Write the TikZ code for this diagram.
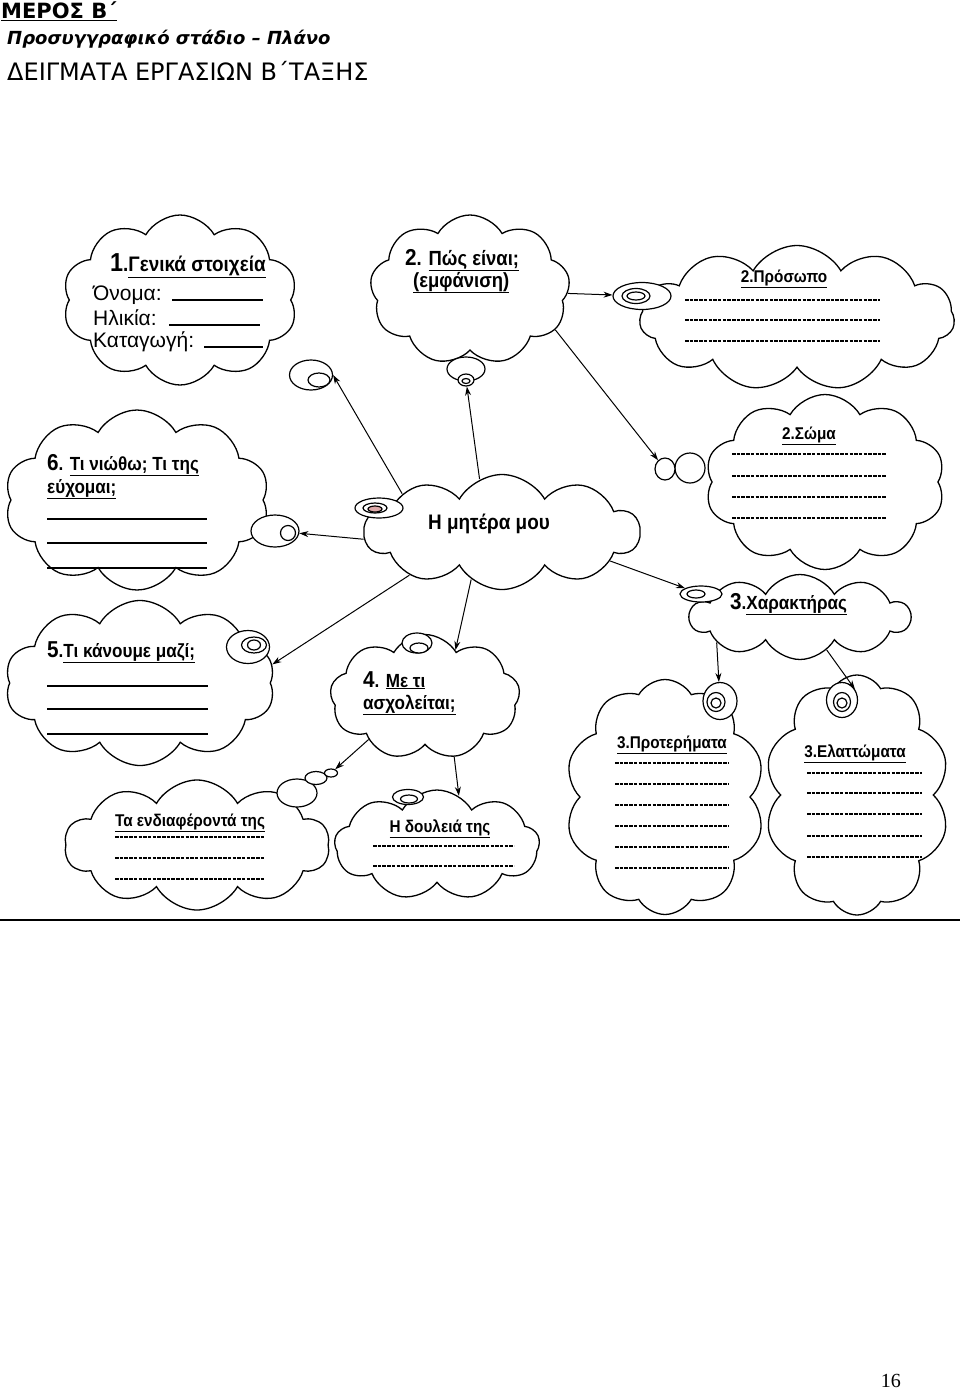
\documentclass[tikz,border=0pt]{standalone}
\usepackage{fontspec}
\usepackage{tikz}
\usetikzlibrary{shapes.symbols, shapes.geometric, positioning, arrows.meta}
\setmainfont{Liberation Sans}
\newfontfamily\headfont{DejaVu Sans}
\newfontfamily\cloudfont[FakeStretch=0.9]{Liberation Sans}
\newfontfamily\pagefont{Liberation Serif}
\definecolor{tailpink}{RGB}{222,170,170}

\begin{document}
\begin{tikzpicture}[x=1pt, y=-1pt,
        % Define styles for clouds, bubbles, texts and arrows
        cloudnode/.style={draw, cloud, cloud puffs=#1, cloud puff arc=120, cloud ignores aspect, line width=1.3pt, fill=white, inner sep=0pt},
        cloudnode/.default=10,
        bubble/.style={draw, ellipse, line width=1.2pt, fill=white, inner sep=0pt},
        caption/.style={font=\cloudfont\bfseries\fontsize{17}{20}\selectfont, anchor=base west, inner sep=0pt},
        bigcaption/.style={caption, font=\cloudfont\bfseries\fontsize{19}{22}\selectfont},
        entry/.style={font=\fontsize{21}{24}\selectfont, anchor=base west, inner sep=0pt},
        dots/.style={line width=1.6pt, dash pattern=on 3.5pt off 1.2pt},
        blank/.style={line width=1.8pt},
        link/.style={-{Stealth[length=9pt, width=6pt]}, line width=1pt}
    ]
    \useasboundingbox (0,0) rectangle (960,1390);

    % --- HEADER ---
    \node[anchor=base west, inner sep=0pt, font=\headfont\bfseries\fontsize{21}{24}\selectfont] (part) at (1,18) {\underline{ΜΕΡΟΣ Β΄}};
    \node[anchor=base west, inner sep=0pt, font=\headfont\bfseries\itshape\fontsize{18}{20}\selectfont] (stage) at (7,44) {Προσυγγραφικό στάδιο – Πλάνο};
    \node[anchor=base west, inner sep=0pt, font=\headfont\fontsize{24}{26}\selectfont] (samples) at (7,80) {ΔΕΙΓΜΑΤΑ ΕΡΓΑΣΙΩΝ Β΄ΤΑΞΗΣ};

    % --- CLOUDS ---
    \node[cloudnode=10, minimum width=235pt, minimum height=170pt] (gen) at (180,300) {};
    \node[cloudnode=9, minimum width=200pt, minimum height=150pt] (looks) at (470,290) {};
    \node[cloudnode=11, minimum width=315pt, minimum height=145pt] (face) at (797,318) {};
    \node[cloudnode=10, minimum width=240pt, minimum height=175pt] (body) at (825,482) {};
    \node[cloudnode=10, minimum width=265pt, minimum height=180pt] (feel) at (137,500) {};
    \node[cloudnode=10, minimum width=275pt, minimum height=115pt] (mother) at (502,532) {};
    \node[cloudnode=10, minimum width=220pt, minimum height=85pt] (character) at (800,617) {};
    \node[cloudnode=10, minimum width=270pt, minimum height=165pt] (together) at (140,683) {};
    \node[cloudnode=9, minimum width=190pt, minimum height=125pt] (hobby) at (425,697) {};
    \node[cloudnode=10, minimum width=265pt, minimum height=130pt] (interests) at (197,845) {};
    \node[cloudnode=9, minimum width=205pt, minimum height=110pt] (job) at (437,845) {};
    \node[cloudnode=10, minimum width=200pt, minimum height=235pt] (virtues) at (665,797) {};
    \node[cloudnode=10, minimum width=185pt, minimum height=240pt] (faults) at (857,795) {};

    % --- BUBBLES (tails of the clouds) ---
    \node[bubble, minimum width=43pt, minimum height=30pt] (gentail) at (311,375) {};
    \node[bubble, minimum width=22pt, minimum height=14pt] (gentailin) at (319,380) {};

    \node[bubble, minimum width=38pt, minimum height=24pt] (lookstail) at (466,369) {};
    \node[bubble, minimum width=16pt, minimum height=12pt] (lookstailin) at (466,380) {};
    \node[bubble, minimum width=8pt, minimum height=5pt] (lookstaildot) at (466,381) {};

    \node[bubble, minimum width=58pt, minimum height=27pt] (facetail) at (642,296) {};
    \node[bubble, minimum width=28pt, minimum height=15pt] (facetailin) at (636,296) {};
    \node[bubble, minimum width=18pt, minimum height=8pt] (facetaildot) at (636,296) {};

    \node[bubble, minimum width=30pt, minimum height=30pt] (bodytail) at (690,468) {};
    \node[bubble, minimum width=20pt, minimum height=22pt] (bodytailin) at (665,469) {};

    \node[bubble, minimum width=48pt, minimum height=32pt] (feeltail) at (275,531) {};
    \node[bubble, minimum width=15pt, minimum height=15pt] (feeltailin) at (288,533) {};

    \node[bubble, minimum width=48pt, minimum height=20pt] (mothertail) at (379,508) {};
    \node[bubble, minimum width=24pt, minimum height=10pt] (mothertailin) at (375,508) {};
    \node[bubble, fill=tailpink, minimum width=14pt, minimum height=6pt] (mothertaildot) at (375,509) {};

    \node[bubble, minimum width=43pt, minimum height=33pt] (togethertail) at (248,647) {};
    \node[bubble, minimum width=25pt, minimum height=16pt] (togethertailin) at (254,645) {};
    \node[bubble, minimum width=13pt, minimum height=10pt] (togethertaildot) at (254,645) {};

    \node[bubble, minimum width=30pt, minimum height=20pt] (hobbytail) at (417,643) {};
    \node[bubble, minimum width=18pt, minimum height=10pt] (hobbytailin) at (419,648) {};

    \node[bubble, minimum width=42pt, minimum height=16pt] (chartail) at (701,594) {};
    \node[bubble, minimum width=18pt, minimum height=8pt] (chartailin) at (696,594) {};

    \node[bubble, minimum width=34pt, minimum height=37pt] (virtail) at (720,701) {};
    \node[bubble, minimum width=18pt, minimum height=19pt] (virtailin) at (716,702) {};
    \node[bubble, minimum width=10pt, minimum height=10pt] (virtaildot) at (716,703) {};

    \node[bubble, minimum width=31pt, minimum height=35pt] (faultail) at (842,700) {};
    \node[bubble, minimum width=17pt, minimum height=19pt] (faultailin) at (842,702) {};
    \node[bubble, minimum width=10pt, minimum height=10pt] (faultaildot) at (842,703) {};

    \node[bubble, minimum width=40pt, minimum height=28pt] (intertail) at (297,793) {};
    \node[bubble, minimum width=22pt, minimum height=13pt] (intertailin) at (316,778) {};
    \node[bubble, minimum width=13pt, minimum height=8pt] (intertaildot) at (331,773) {};

    \node[bubble, minimum width=31pt, minimum height=15pt] (jobtail) at (408,797) {};
    \node[bubble, minimum width=17pt, minimum height=8pt] (jobtailin) at (409,799) {};

    % --- TEXTS ---
    % General information
    \node[bigcaption, font=\cloudfont\bfseries\fontsize{21}{24}\selectfont] (gentitle) at (110,271) {{\fontsize{26}{28}\selectfont 1}.\underline{Γενικά στοιχεία}};
    \node[entry] (name) at (93,300) {Όνομα:};
    \node[entry] (age) at (93,325) {Ηλικία:};
    \node[entry] (origin) at (93,347) {Καταγωγή:};
    \draw[blank] (172,300) -- (263,300);
    \draw[blank] (169,325) -- (260,325);
    \draw[blank] (204,347) -- (263,347);

    % What she looks like
    \node[bigcaption, font=\cloudfont\bfseries\fontsize{20.5}{24}\selectfont] (lookstitle) at (405,265) {{\fontsize{23}{26}\selectfont 2}. \underline{Πώς είναι;}};
    \node[bigcaption, font=\cloudfont\bfseries\fontsize{20.5}{24}\selectfont] (lookssub) at (413,287) {\underline{(εμφάνιση)}};

    % Face
    \node[caption, anchor=base] (facetitle) at (784,282) {\underline{2.Πρόσωπο}};
    \draw[dots] (685,300) -- (880,300);
    \draw[dots] (685,320) -- (880,320);
    \draw[dots] (685,341) -- (880,341);

    % Body
    \node[caption, anchor=base] (bodytitle) at (809,439) {\underline{2.Σώμα}};
    \draw[dots] (732,454) -- (887,454);
    \draw[dots] (732,476) -- (887,476);
    \draw[dots] (732,497) -- (887,497);
    \draw[dots] (732,518) -- (887,518);

    % Feelings and wishes
    \node[bigcaption] (feeltitle) at (47,470) {{\fontsize{23}{26}\selectfont 6}. \underline{Τι νιώθω; Τι της}};
    \node[bigcaption] (feelsub) at (47,493) {\underline{εύχομαι;}};
    \draw[blank] (47,519) -- (207,519);
    \draw[blank] (47,543) -- (207,543);
    \draw[blank] (47,568) -- (207,568);

    % Centre
    \node[anchor=base, inner sep=0pt, font=\cloudfont\bfseries\fontsize{21}{24}\selectfont] (mothertitle) at (489,529) {Η μητέρα μου};

    % Character
    \node[bigcaption] (chartitle) at (730,609) {{\fontsize{23}{26}\selectfont 3}.\underline{Χαρακτήρας}};

    % Things we do together
    \node[bigcaption] (togethertitle) at (47,657) {{\fontsize{23}{26}\selectfont 5}.\underline{Τι κάνουμε μαζί;}};
    \draw[blank] (47,686) -- (208,686);
    \draw[blank] (47,709) -- (208,709);
    \draw[blank] (47,734) -- (208,734);

    % Occupation
    \node[bigcaption] (hobbytitle) at (363,687) {{\fontsize{23}{26}\selectfont 4}. \underline{Με τι}};
    \node[bigcaption] (hobbysub) at (363,709) {\underline{ασχολείται;}};

    % Interests
    \node[caption, anchor=base] (intertitle) at (190,826) {\underline{Τα ενδιαφέροντά της}};
    \draw[dots] (115,837) -- (264,837);
    \draw[dots] (115,858) -- (264,858);
    \draw[dots] (115,879) -- (264,879);

    % Job
    \node[caption, anchor=base] (jobtitle) at (440,832) {\underline{Η δουλειά της}};
    \draw[dots] (373,846) -- (514,846);
    \draw[dots] (373,866) -- (514,866);

    % Virtues
    \node[caption, anchor=base] (virtitle) at (672,748) {\underline{3.Προτερήματα}};
    \draw[dots] (615,763) -- (728,763);
    \draw[dots] (615,784) -- (728,784);
    \draw[dots] (615,805) -- (728,805);
    \draw[dots] (615,826) -- (728,826);
    \draw[dots] (615,847) -- (728,847);
    \draw[dots] (615,868) -- (728,868);

    % Faults
    \node[caption, anchor=base] (faultitle) at (855,757) {\underline{3.Ελαττώματα}};
    \draw[dots] (807,773) -- (922,773);
    \draw[dots] (807,793) -- (922,793);
    \draw[dots] (807,814) -- (922,814);
    \draw[dots] (807,836) -- (922,836);
    \draw[dots] (807,857) -- (922,857);

    % --- CONNECTIONS ---
    \draw[link] (mother.159) -- (gentail.east);
    \draw[link] (mother.113) -- (lookstailin);
    \draw[link] (looks.335) -- (bodytailin);
    \draw[link] (looks.358) -- (facetail);
    \draw[link] (mother.183) -- (feeltail);
    \draw[link] (mother.205) -- (together.8);
    \draw[link] (mother.237) -- (hobby.57);
    \draw[link] (mother.345) -- (chartail);
    \draw[link] (character.197) -- (virtail);
    \draw[link] (character.309) -- (faultail.40);
    \draw[link] (hobby.217) -- (intertaildot);
    \draw[link] (hobby.296) -- (job.66);

    % --- FOOTER ---
    \draw[line width=1.3pt] (0,920) -- (960,920);
    \node[anchor=base east, inner sep=0pt, font=\pagefont\fontsize{20}{22}\selectfont] (pagenum) at (901,1387) {16};
\end{tikzpicture}
\end{document}
